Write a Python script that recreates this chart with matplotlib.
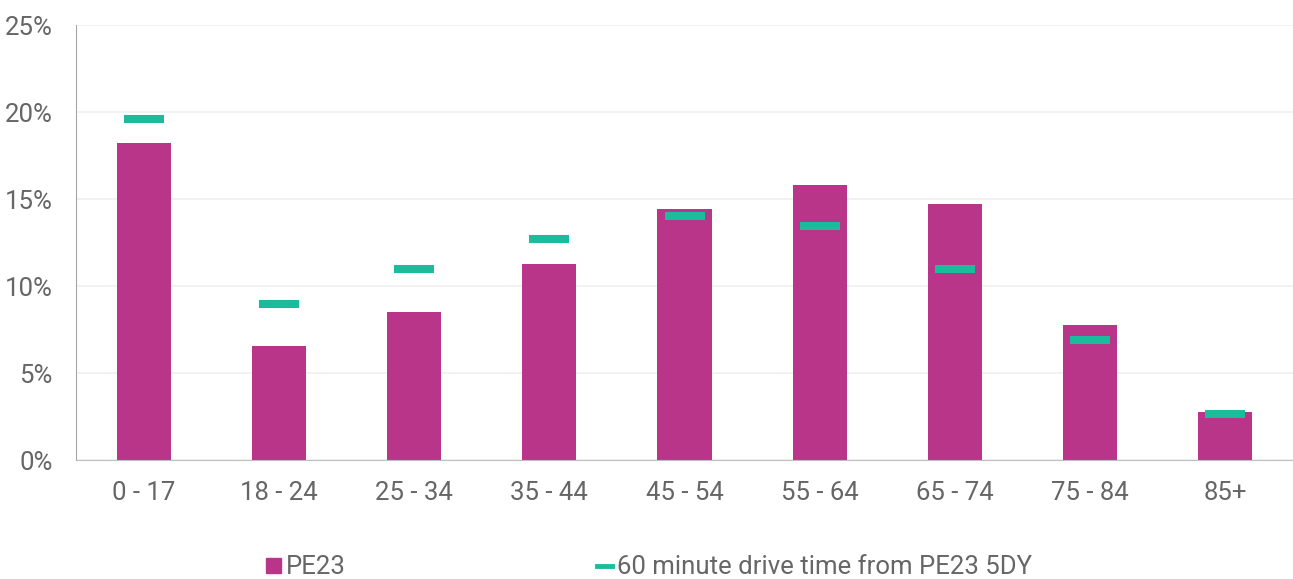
import matplotlib.pyplot as plt
import numpy as np
from matplotlib.patches import Patch
from matplotlib.lines import Line2D

# age bands and shares (%)
age_bands = ['0 - 17', '18 - 24', '25 - 34', '35 - 44', '45 - 54',
             '55 - 64', '65 - 74', '75 - 84', '85+']
pe23 = [18.2, 6.55, 8.5, 11.25, 14.4, 15.8, 14.7, 7.75, 2.75]
drive_60 = [19.6, 8.95, 11.0, 12.7, 14.0, 13.45, 10.95, 6.9, 2.65]

plt.rcParams['font.family'] = ['Roboto', 'DejaVu Sans']

fig = plt.figure(figsize=(12.93, 5.79), dpi=100)
ax = fig.add_axes([0.0588, 0.2055, 0.9412, 0.7513])

x = np.arange(len(age_bands))
ax.bar(x, pe23, width=0.4, color='#b8358a', zorder=2, label='PE23')
ax.hlines(drive_60, x - 0.148, x + 0.148, color='#1abc9c', linewidth=5.8,
          zorder=3, label='60 minute drive time from PE23 5DY')

ax.set_xlim(-0.5, len(age_bands) - 0.5)
ax.set_ylim(0, 25)
ax.set_yticks([0, 5, 10, 15, 20, 25])
ax.set_yticklabels(['0%', '5%', '10%', '15%', '20%', '25%'])
ax.set_xticks(x)
ax.set_xticklabels(age_bands)

ax.grid(axis='y', color='#f0f0f0', linewidth=1.2, zorder=0)
ax.set_axisbelow(True)
for side in ['top', 'right']:
    ax.spines[side].set_visible(False)
ax.spines['left'].set_color('#a6a6a6')
ax.spines['bottom'].set_color('#bfbfbf')
ax.tick_params(axis='both', length=0, labelsize=18.5, colors='#666666')
ax.tick_params(axis='y', pad=17)
ax.tick_params(axis='x', pad=15)

handles = [Patch(color='#b8358a', label='PE23'),
           Line2D([], [], color='#1abc9c', linewidth=3.5,
                  label='60 minute drive time from PE23 5DY')]
leg = fig.legend(handles=handles, loc='center', bbox_to_anchor=(0.502, 0.02),
                 ncol=2, frameon=False, fontsize=18.5, handlelength=0.55,
                 handleheight=0.55, handletextpad=0.2, columnspacing=9.8,
                 labelcolor='#666666')

fig.savefig('out.png', dpi=100)
